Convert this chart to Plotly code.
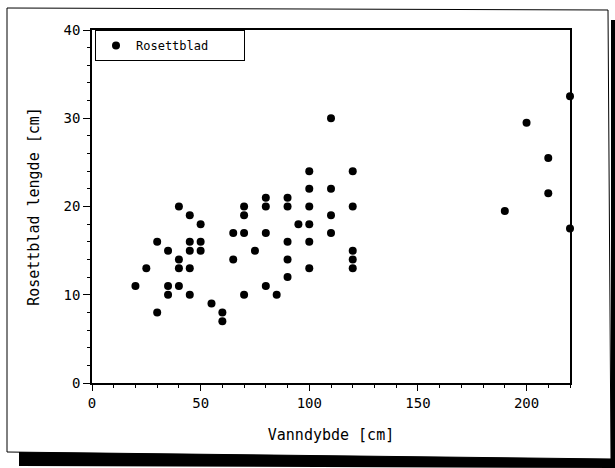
import plotly.graph_objects as go

# Water depth (cm) and rosette-leaf length (cm)
depth = [20, 25, 30, 30, 35, 35, 35, 40, 40, 40, 40, 45, 45, 45, 45, 45,
         50, 50, 50, 55, 60, 60, 65, 65, 70, 70, 70, 70, 75, 80, 80, 80, 80,
         85, 90, 90, 90, 90, 90, 95, 100, 100, 100, 100, 100, 100,
         110, 110, 110, 110, 120, 120, 120, 120, 120,
         190, 200, 210, 210, 220, 220]
length = [11, 13, 8, 16, 15, 11, 10, 20, 14, 13, 11, 19, 16, 15, 13, 10,
          18, 16, 15, 9, 8, 7, 17, 14, 20, 19, 17, 10, 15, 21, 20, 17, 11,
          10, 21, 20, 16, 14, 12, 18, 24, 22, 20, 18, 16, 13,
          30, 22, 19, 17, 24, 20, 15, 14, 13,
          19.5, 29.5, 25.5, 21.5, 17.5, 32.5]

x_ticks = [0, 50, 100, 150, 200]
y_ticks = [0, 10, 20, 30, 40]

W, H = 615, 468
L, R, T, B = 92, 570, 30, 383


def px(x):
    return (x - L) / (R - L)


def py(y):
    return (B - y) / (B - T)


FONT = "DejaVu Sans Mono"

fig = go.Figure()
fig.add_trace(go.Scatter(
    x=depth, y=length, mode="markers", name="Rosettblad",
    marker=dict(color="black", size=8),
    cliponaxis=False,
))

shapes = [
    # page border
    dict(type="path", xref="paper", yref="paper",
         path=f"M {px(7)},{py(8)} L {px(608)},{py(10)} L {px(611)},{py(459)} L {px(7)},{py(452)} Z",
         line=dict(color="black", width=1)),
    # bottom shadow bar
    dict(type="path", xref="paper", yref="paper",
         path=f"M {px(19)},{py(452)} L {px(615)},{py(459)} L {px(615)},{py(468)} L {px(19)},{py(466)} Z",
         line=dict(width=0), fillcolor="black"),
    # right shadow bar
    dict(type="rect", xref="paper", yref="paper",
         x0=px(611), x1=px(616), y0=py(20), y1=py(468),
         line=dict(width=0), fillcolor="black"),
]

fig.update_layout(
    width=W, height=H,
    margin=dict(l=L, r=W - R, t=T, b=H - B),
    paper_bgcolor="white", plot_bgcolor="white",
    font=dict(family=FONT, color="black", size=14),
    showlegend=True,
    legend=dict(x=px(95), y=1, xanchor="left", yanchor="top",
                orientation="h", entrywidth=103, entrywidthmode="pixels",
                bordercolor="black", borderwidth=1, bgcolor="white",
                font=dict(size=12, family=FONT), itemwidth=30),
    shapes=shapes,
    xaxis=dict(range=[0, 220], tickvals=x_ticks, showgrid=False, zeroline=False,
               automargin=False,
               showline=True, linecolor="black", linewidth=1.5, mirror=True,
               ticks="outside", ticklen=6, tickcolor="black",
               minor=dict(dtick=10, ticks="outside", ticklen=3, tickcolor="black"),
               tickfont=dict(size=14),
               title=dict(text="Vanndybde [cm]", font=dict(size=15), standoff=20)),
    yaxis=dict(range=[0, 40], tickvals=y_ticks, showgrid=False, zeroline=False,
               automargin=False,
               showline=True, linecolor="black", linewidth=1.5, mirror=True,
               ticks="outside", ticklen=7, tickcolor="black",
               minor=dict(dtick=2, ticks="outside", ticklen=3, tickcolor="black"),
               tickfont=dict(size=14),
               title=dict(text="Rosettblad lengde [cm]", font=dict(size=15), standoff=20)),
)

fig.write_html("out.html", config={"displayModeBar": False},
               post_script="document.body.style.margin='0';document.body.style.overflow='hidden';")
